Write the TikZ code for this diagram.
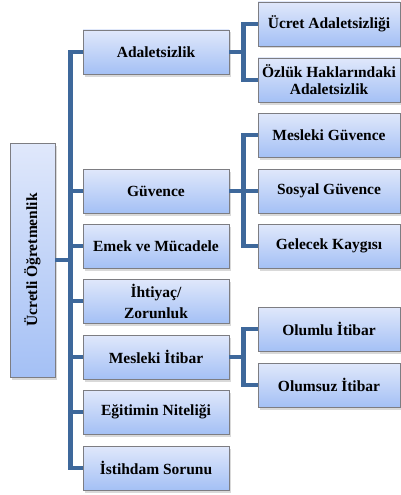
\documentclass[tikz,border=0pt]{standalone}
\usepackage{fontspec}
\setmainfont{Liberation Serif}
\usetikzlibrary{shadows}
\definecolor{boxtop}{RGB}{224,232,251}
\definecolor{boxbot}{RGB}{164,192,245}
\definecolor{boxline}{RGB}{125,125,130}
\definecolor{linkblue}{RGB}{62,104,155}
\begin{document}
\begin{tikzpicture}[x=1pt,y=-1pt,
    box/.style={draw=boxline, line width=0.8pt, top color=boxtop, bottom color=boxbot,
      minimum height=44pt, inner sep=1pt, align=center,
      font=\fontsize{15.5}{19}\selectfont\bfseries,
      drop shadow={opacity=0.3, shadow xshift=1.5pt, shadow yshift=-2.5pt}},
    midbox/.style={box, minimum width=146pt},
    subbox/.style={box, minimum width=142pt},
    link/.style={draw=linkblue, line width=4.5pt}]
  \useasboundingbox (0,0) rectangle (401,495);
  % root
  \node[box, minimum width=45pt, minimum height=234pt] (root) at (32.5,260)
    {\rotatebox{90}{Ücretli Öğretmenlik}};
  % middle column
  \node[midbox] (adal) at (156,52) {Adaletsizlik};
  \node[midbox] (guv) at (156,191) {Güvence};
  \node[midbox] (emek) at (156,246) {Emek ve Mücadele};
  \node[midbox] (ihti) at (156,301) {İhtiyaç/\\[2pt]Zorunluk};
  \node[midbox] (itib) at (156,357) {Mesleki İtibar};
  \node[midbox] (egit) at (156,412) {Eğitimin Niteliği};
  \node[midbox] (isti) at (156,468) {İstihdam Sorunu};
  % right column
  \node[subbox] (ucret) at (329,24) {Ücret Adaletsizliği};
  \node[subbox] (ozluk) at (329,80) {Özlük Haklarındaki\\[-2pt]Adaletsizlik};
  \node[subbox] (mesg) at (329,135) {Mesleki Güvence};
  \node[subbox] (sosg) at (329,191) {Sosyal Güvence};
  \node[subbox] (gelk) at (329,246) {Gelecek Kaygısı};
  \node[subbox] (olum) at (329,329) {Olumlu İtibar};
  \node[subbox] (olsz) at (329,385) {Olumsuz İtibar};
  % connectors
  \foreach \n in {adal,guv,emek,ihti,itib,egit,isti}
    \draw[link] (root.east) -- ++(15,0) |- (\n.west);
  \foreach \n in {ucret,ozluk}
    \draw[link] (adal.east) -- ++(14,0) |- (\n.west);
  \foreach \n in {mesg,sosg,gelk}
    \draw[link] (guv.east) -- ++(14,0) |- (\n.west);
  \foreach \n in {olum,olsz}
    \draw[link] (itib.east) -- ++(14,0) |- (\n.west);
\end{tikzpicture}
\end{document}
